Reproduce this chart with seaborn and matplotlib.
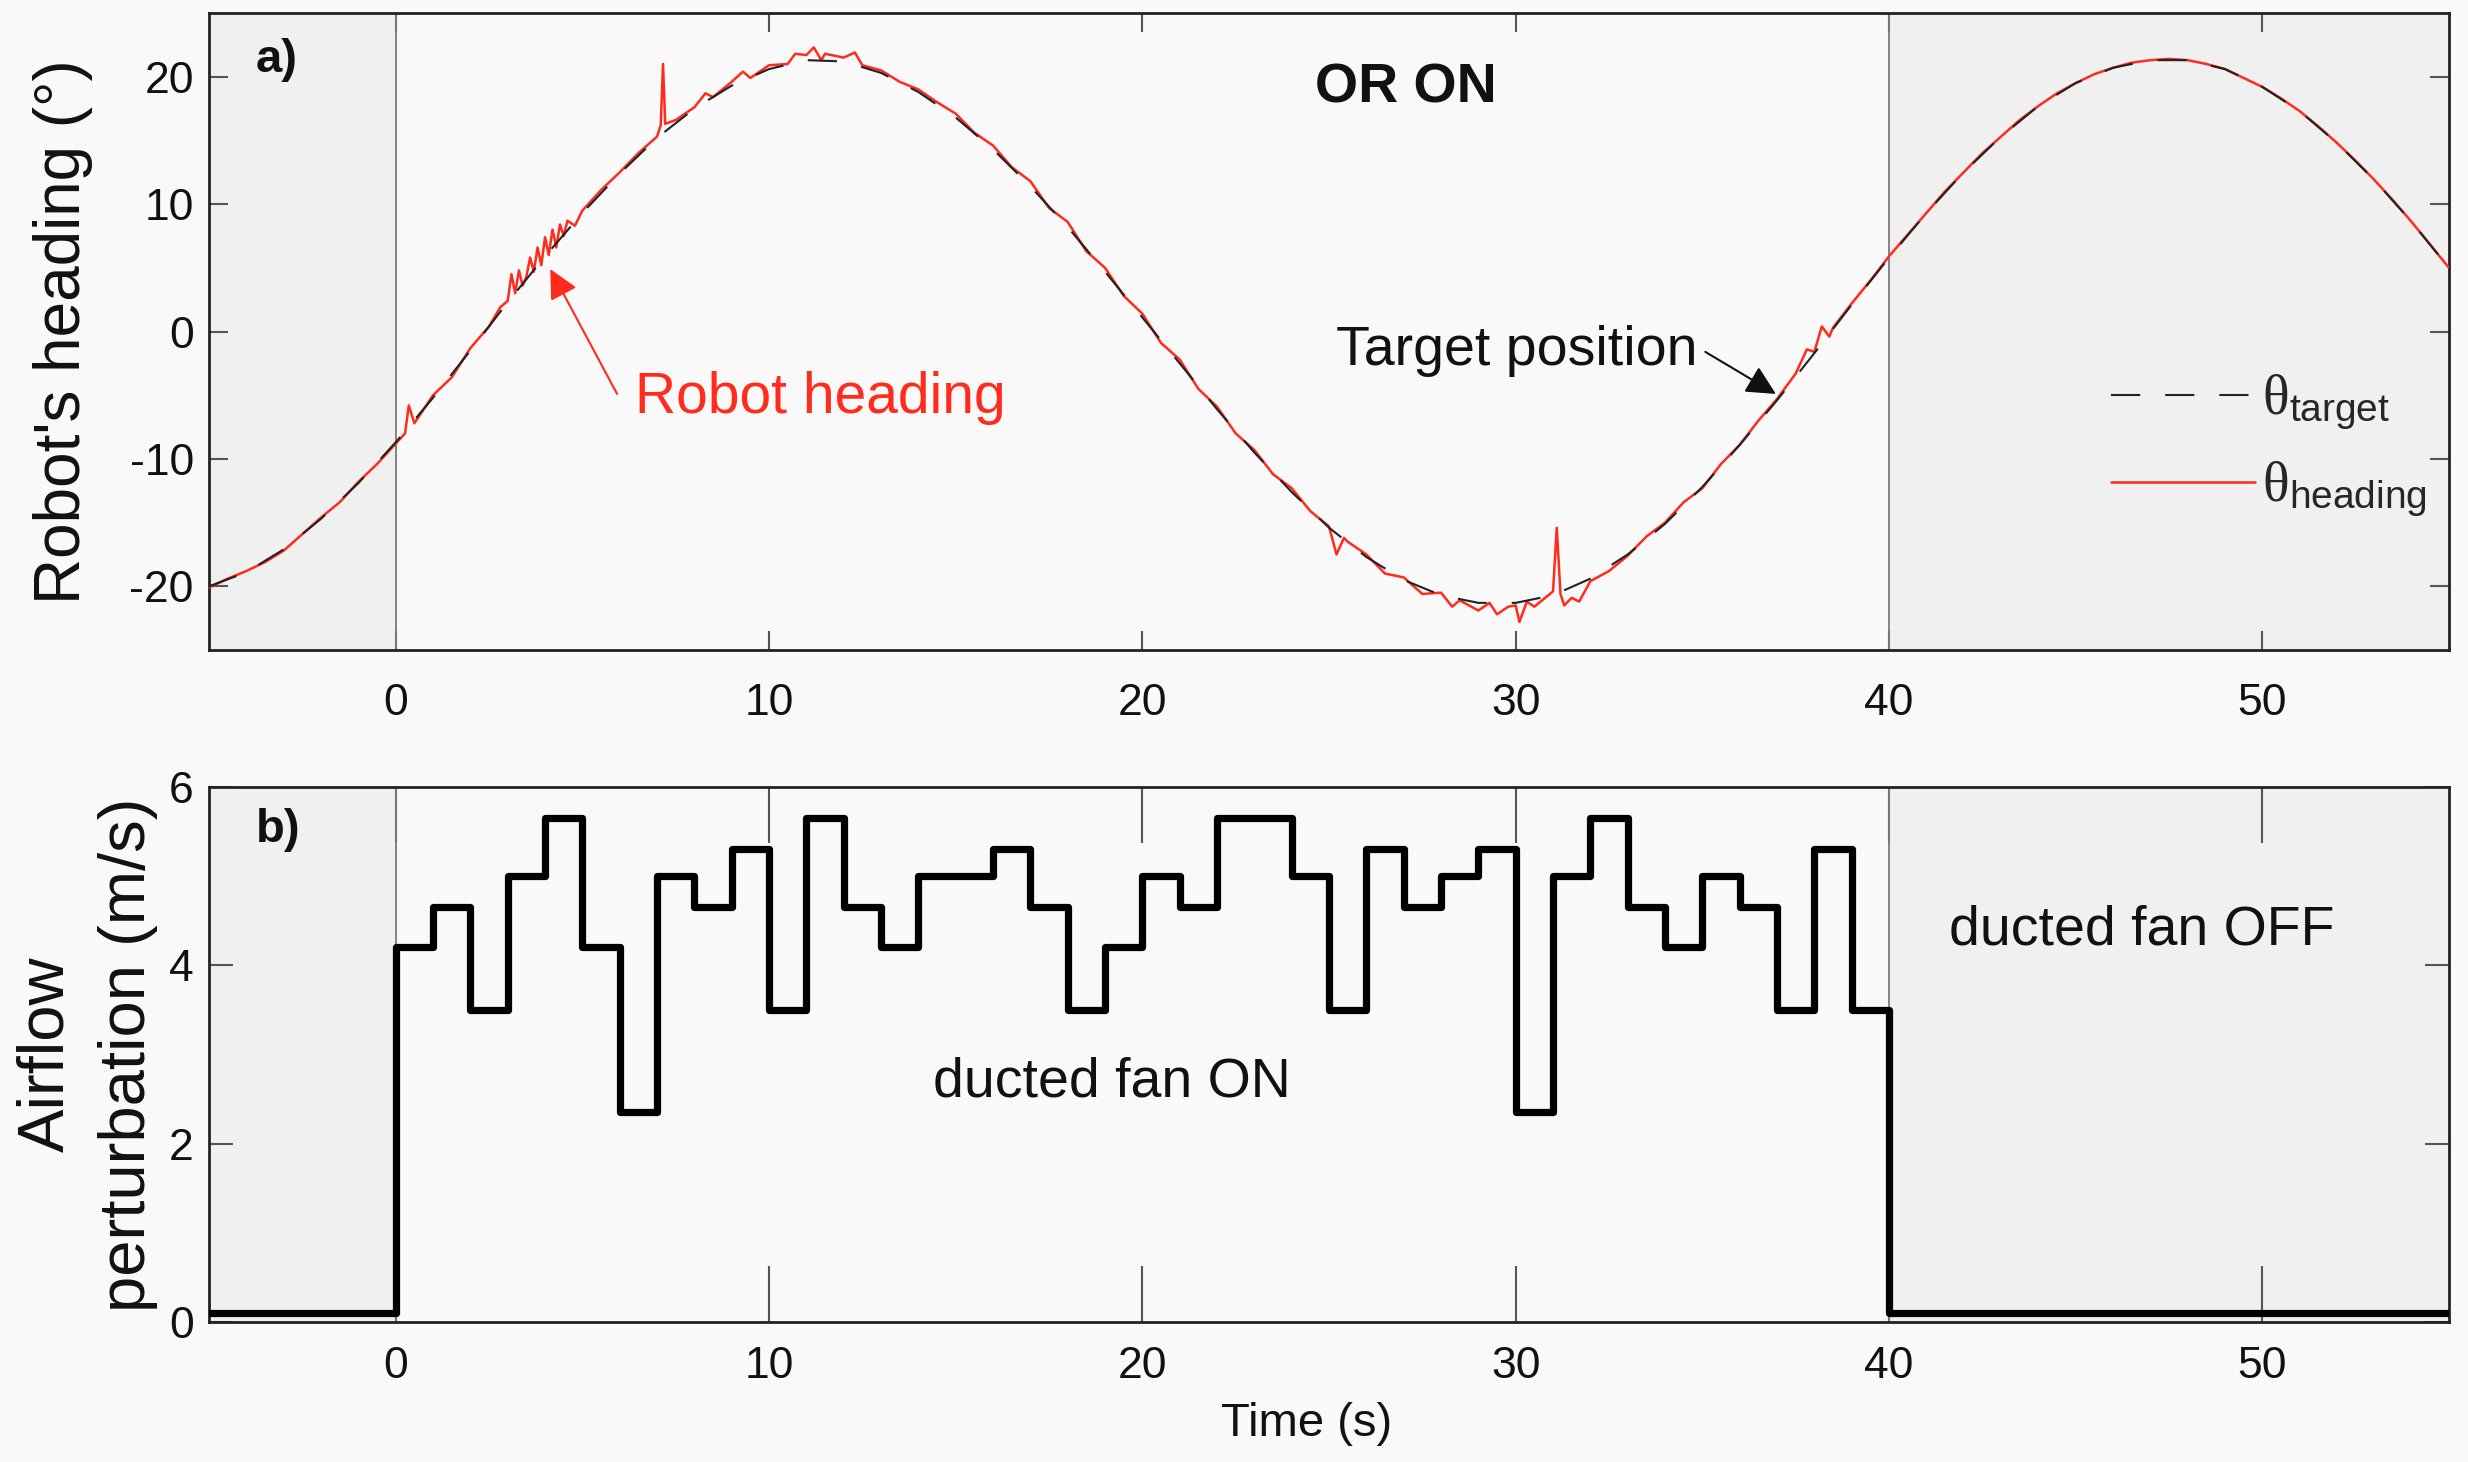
import numpy as np
import pandas as pd
import matplotlib
matplotlib.use("Agg")
import matplotlib.pyplot as plt
import seaborn as sns

# ---------------- data ----------------
target_time = list(range(-5, 56))
target_deg = [-20.0, -18.9, -17.1, -14.7, -11.9, -8.7, -5.2, -1.5, 2.3, 5.9,
              9.3, 12.4, 15.2, 17.5, 19.3, 20.6, 21.3, 21.2, 20.3, 18.8,
              16.8, 14.3, 11.4, 8.2, 4.7, 1.1, -2.5, -6.1, -9.5, -12.6,
              -15.4, -17.7, -19.5, -20.7, -21.3, -21.3, -20.7, -19.4, -17.5, -15.1,
              -12.2, -8.9, -5.4, -1.7, 2.1, 5.8, 9.3, 12.5, 15.3, 17.7,
              19.5, 20.7, 21.3, 21.3, 20.6, 19.2, 17.3, 14.8, 11.9, 8.6,
              5.0]

heading_time = [-5, -4.5, -4, -3.5, -3, -2.5, -2, -1.5, -1, -0.5,
                0, 0.25, 0.35, 0.5, 1, 1.5, 2, 2.5, 2.8, 3.0,
                3.1, 3.2, 3.3, 3.4, 3.5, 3.6, 3.7, 3.8, 3.9, 4.0,
                4.1, 4.2, 4.3, 4.4, 4.5, 4.6, 4.8, 5, 5.5, 6,
                6.5, 7, 7.1, 7.16, 7.22, 7.5, 8, 8.3, 8.5, 9,
                9.3, 9.5, 10, 10.5, 10.7, 11, 11.2, 11.4, 11.5, 12,
                12.3, 12.5, 13, 13.5, 14, 14.5, 15, 15.5, 16, 16.5,
                17, 17.5, 18, 18.5, 19, 19.5, 20, 20.5, 21, 21.5,
                22, 22.5, 23, 23.5, 24, 24.5, 25, 25.2, 25.4, 25.5,
                26, 26.5, 27, 27.5, 28, 28.3, 28.5, 29, 29.3, 29.5,
                29.8, 30, 30.1, 30.3, 30.5, 31, 31.1, 31.2, 31.3, 31.5,
                31.7, 32, 32.5, 33, 33.5, 34, 34.5, 35, 35.5, 36,
                36.5, 37, 37.5, 37.8, 38, 38.2, 38.4, 38.5, 39, 39.5,
                40, 40.5, 41, 41.5, 42, 42.5, 43, 43.5, 44, 44.5,
                45, 45.5, 46, 46.5, 47, 47.5, 48, 48.5, 49, 49.5,
                50, 50.5, 51, 51.5, 52, 52.5, 53, 53.5, 54, 54.5,
                55]
heading_deg = [-20.1, -19.4, -18.8, -18.1, -17.2, -15.9, -14.6, -13.4, -11.8, -10.4,
               -8.8, -8.0, -5.8, -7.2, -5.0, -3.6, -1.3, 0.4, 1.9, 2.4,
               4.5, 3.0, 4.8, 3.6, 4.3, 5.8, 4.7, 6.6, 5.2, 7.4,
               6.0, 8.0, 6.6, 8.4, 7.5, 8.7, 8.3, 9.5, 11.1, 12.5,
               14.0, 15.3, 16.2, 21.0, 16.3, 16.6, 17.6, 18.7, 18.4, 19.6,
               20.4, 19.9, 20.9, 21.0, 21.8, 21.7, 22.3, 21.3, 21.8, 21.5,
               21.9, 20.9, 20.5, 19.6, 19.0, 18.0, 17.1, 15.6, 14.6, 12.9,
               11.8, 9.7, 8.6, 6.3, 5.0, 2.8, 1.4, -0.9, -2.2, -4.5,
               -5.9, -8.0, -9.3, -11.2, -12.3, -14.1, -15.3, -17.5, -16.2, -16.5,
               -17.5, -19.0, -19.3, -20.6, -20.5, -21.6, -21.1, -21.9, -21.3, -22.2,
               -21.6, -21.5, -22.8, -21.2, -21.6, -20.4, -15.4, -20.6, -21.5, -20.9,
               -21.2, -19.6, -18.8, -17.6, -16.1, -15.0, -13.4, -12.3, -10.4, -8.9,
               -7.0, -5.3, -3.3, -1.4, -1.6, 0.4, -0.4, 0.3, 2.2, 4.0,
               5.9, 7.6, 9.3, 11.0, 12.5, 14.0, 15.3, 16.6, 17.7, 18.7,
               19.5, 20.2, 20.7, 21.1, 21.3, 21.4, 21.3, 21.0, 20.6, 19.9,
               19.2, 18.3, 17.3, 16.1, 14.8, 13.4, 11.9, 10.3, 8.6, 6.8,
               5.0]

airflow_time = [-5] + list(range(0, 41)) + [55]
airflow_ms = [0.1,
              4.2, 4.65, 3.5, 5.0, 5.65, 4.2, 2.35, 5.0, 4.65, 5.3,
              3.5, 5.65, 4.65, 4.2, 5.0, 5.0, 5.3, 4.65, 3.5, 4.2,
              5.0, 4.65, 5.65, 5.65, 5.0, 3.5, 5.3, 4.65, 5.0, 5.3,
              2.35, 5.0, 5.65, 4.65, 4.2, 5.0, 4.65, 3.5, 5.3, 3.5,
              0.1, 0.1]

x_ticks = [0, 10, 20, 30, 40, 50]
heading_ticks = [-20, -10, 0, 10, 20]
airflow_ticks = [0, 2, 4, 6]

# ---------------- style ----------------
sns.set_theme(style="ticks")
plt.rcParams["font.family"] = ["Liberation Sans", "DejaVu Sans"]
plt.rcParams["axes.unicode_minus"] = False
plt.rcParams["mathtext.fontset"] = "custom"
plt.rcParams["mathtext.rm"] = "Liberation Serif"
plt.rcParams["mathtext.sf"] = "Liberation Sans"
plt.rcParams["mathtext.it"] = "Liberation Serif:italic"

BG = "#f9f9f9"
SHADE = "#f0f0f0"
RED = "#ff2b1c"
TXT = "#111111"

fig = plt.figure(figsize=(24.68, 14.62), dpi=100, facecolor=BG)
ax1 = fig.add_axes([0.0847, 0.5554, 0.9076, 0.4357])
ax2 = fig.add_axes([0.0847, 0.0958, 0.9076, 0.3660])

for ax in (ax1, ax2):
    ax.set_facecolor(BG)
    ax.axvspan(-5, 0, color=SHADE, lw=0, zorder=0)
    ax.axvspan(40, 55, color=SHADE, lw=0, zorder=0)
    ax.axvline(0, color="#7a7a7a", lw=1.3, zorder=1)
    ax.axvline(40, color="#7a7a7a", lw=1.3, zorder=1)
    ax.set_xlim(-5, 55)
    ax.set_xticks(x_ticks)
    for s in ax.spines.values():
        s.set_color("#222222")
        s.set_linewidth(2.0)

# ---------------- panel a ----------------
heading_df = pd.DataFrame({"t": heading_time, "deg": heading_deg})
target_df = pd.DataFrame({"t": target_time, "deg": target_deg})
sns.lineplot(data=heading_df, x="t", y="deg", ax=ax1, color=RED, lw=1.8,
             sort=False, estimator=None, zorder=3,
             label=r"$\mathrm{\theta}_{\mathsf{heading}}$")
sns.lineplot(data=target_df, x="t", y="deg", ax=ax1, color="#222222", lw=1.5,
             linestyle=(0, (14, 12)), sort=False, estimator=None, zorder=4,
             label=r"$\mathrm{\theta}_{\mathsf{target}}$")

ax1.set_ylim(-25, 25)
ax1.set_yticks(heading_ticks)
ax1.set_xlabel("")
ax1.set_ylabel("Robot's heading (°)", fontsize=46, color=TXT)
ax1.yaxis.set_label_coords(-0.052, 0.5)
ax1.tick_params(axis="both", direction="in", length=14, width=1.5, color="#555555",
                top=True, right=True, labelsize=32, labelcolor=TXT)
ax1.tick_params(axis="x", pad=24)
ax1.tick_params(axis="y", pad=11)

handles, labels = ax1.get_legend_handles_labels()
order = [labels.index(r"$\mathrm{\theta}_{\mathsf{target}}$"),
         labels.index(r"$\mathrm{\theta}_{\mathsf{heading}}$")]
ax1.legend([handles[i] for i in order], [labels[i] for i in order],
           loc="center left", bbox_to_anchor=(0.849, 0.32), frameon=False,
           fontsize=40, handlelength=2.6, handletextpad=0.12, labelspacing=0.5,
           borderpad=0, borderaxespad=0)

ax1.text(-3.75, 21.3, "a)", fontsize=34, fontweight="bold", ha="left", va="center", color=TXT)
ax1.text(27.06, 19.1, "OR ON", fontsize=40, fontweight="bold", ha="center", va="center", color=TXT)
ax1.text(6.4, -5.2, "Robot heading", fontsize=41, color=RED, ha="left", va="center")
ax1.annotate("", xy=(4.14, 4.9), xytext=(5.93, -4.9),
             arrowprops=dict(arrowstyle="-|>", color=RED, lw=1.5, mutation_scale=45,
                             shrinkA=0, shrinkB=0))
ax1.text(25.2, -1.5, "Target position", fontsize=40, color=TXT, ha="left", va="center")
ax1.annotate("", xy=(36.97, -4.9), xytext=(35.08, -1.6),
             arrowprops=dict(arrowstyle="-|>", color="#111111", lw=1.5, mutation_scale=45,
                             shrinkA=0, shrinkB=0))

# ---------------- panel b ----------------
airflow_df = pd.DataFrame({"t": airflow_time, "ms": airflow_ms})
sns.lineplot(data=airflow_df, x="t", y="ms", ax=ax2, color="black", lw=5.2,
             drawstyle="steps-post", sort=False, estimator=None, zorder=3)
ax2.set_ylim(0, 6)
ax2.set_yticks(airflow_ticks)
ax2.set_ylabel("Airflow\nperturbation (m/s)", fontsize=47, color=TXT, linespacing=1.45)
ax2.yaxis.set_label_coords(-0.023, 0.5)
ax2.set_xlabel("Time (s)", fontsize=34, color=TXT)
ax2.xaxis.set_label_coords(0.49, -0.15)
ax2.tick_params(axis="x", direction="in", length=40, width=1.5, color="#555555",
                top=True, labelsize=32, labelcolor=TXT, pad=17)
ax2.tick_params(axis="y", direction="in", length=17, width=1.5, color="#555555",
                right=True, labelsize=32, labelcolor=TXT, pad=11)

ax2.text(-3.75, 5.52, "b)", fontsize=34, fontweight="bold", ha="left", va="center", color=TXT)
ax2.text(14.4, 2.68, "ducted fan ON", fontsize=40, color=TXT, ha="left", va="center")
ax2.text(41.6, 4.39, "ducted fan OFF", fontsize=40, color=TXT, ha="left", va="center")

fig.savefig("out.png", dpi=100, facecolor=BG)
